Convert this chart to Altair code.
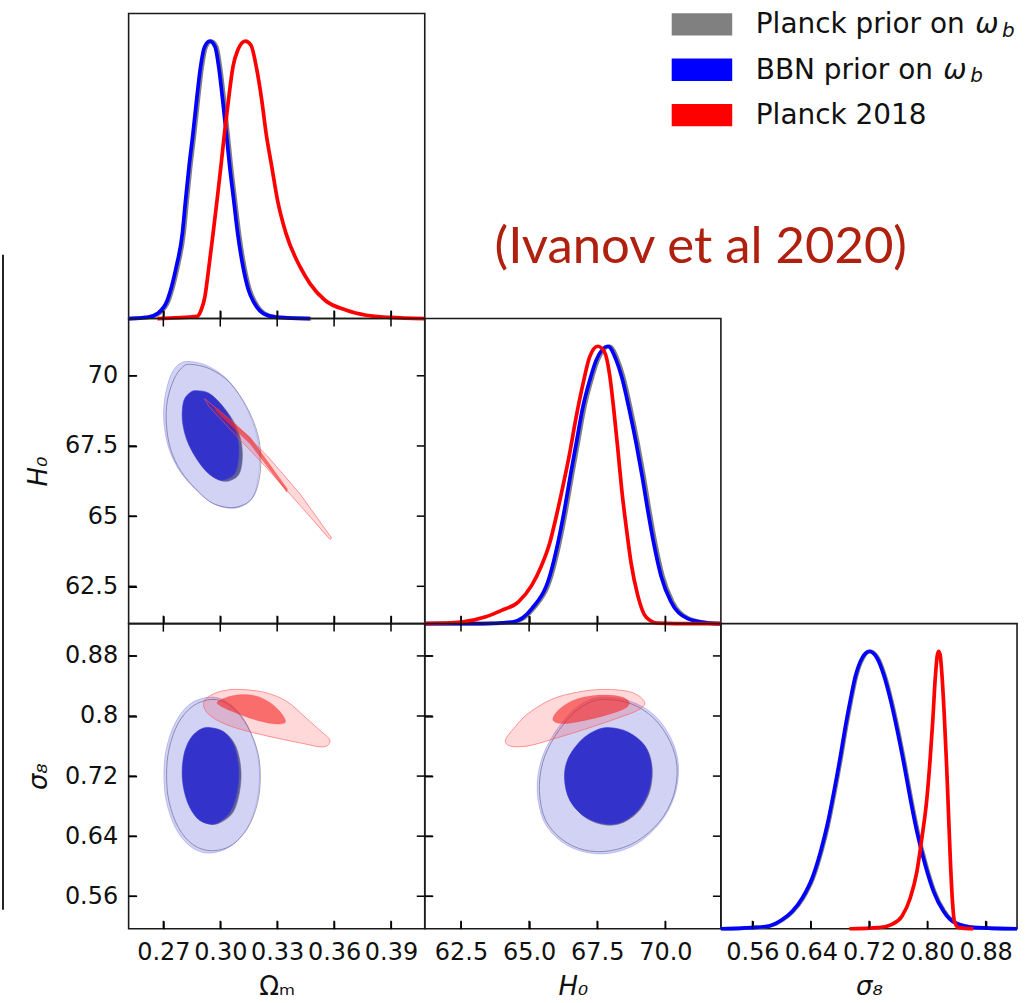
import altair as alt
import pandas as pd

FONT = "DejaVu Sans"
W, H = 297, 306
TK = 8

# ---------------- axes ----------------
om_domain = [0.2517, 0.4078]
h0_domain = [61.17, 72.04]
s8_domain = [0.5167, 0.9230]
dens_domain = [0, 1.1]
om_ticks = [0.27, 0.30, 0.33, 0.36, 0.39]
h0_ticks = [62.5, 65.0, 67.5, 70.0]
s8_ticks = [0.56, 0.64, 0.72, 0.80, 0.88]

# ---------------- 1D marginals ----------------
om_x_gray = [0.2517, 0.2625, 0.2678, 0.2730, 0.2777, 0.2809, 0.2826, 0.2844, 0.2865, 0.2884, 0.2905, 0.2926, 0.2954,
             0.2982, 0.3001, 0.3022, 0.3041, 0.3059, 0.3080, 0.3101, 0.3129, 0.3158, 0.3185, 0.3237, 0.3307, 0.3480]
om_x_blue = [0.2517, 0.2616, 0.2669, 0.2721, 0.2768, 0.2800, 0.2817, 0.2835, 0.2856, 0.2875, 0.2896, 0.2917, 0.2945,
             0.2973, 0.2992, 0.3013, 0.3032, 0.3050, 0.3071, 0.3092, 0.3120, 0.3149, 0.3176, 0.3228, 0.3298, 0.3473]
om_p_blue = [0.0, 0.004, 0.018, 0.066, 0.186, 0.306, 0.426, 0.546, 0.666, 0.786, 0.907, 0.979, 1.0,
             0.979, 0.907, 0.786, 0.666, 0.546, 0.426, 0.306, 0.186, 0.102, 0.060, 0.018, 0.004, 0.0]
om_x_red = [0.2669, 0.2878, 0.2899, 0.2919, 0.2938, 0.2962, 0.2983, 0.3003, 0.3022, 0.3043, 0.3067, 0.3092, 0.3132,
            0.3162, 0.3190, 0.3219, 0.3242, 0.3272, 0.3302, 0.3347, 0.3421, 0.3473, 0.3552, 0.3665, 0.3770, 0.3893, 0.4078]
om_p_red = [0.0, 0.008, 0.030, 0.078, 0.174, 0.306, 0.426, 0.546, 0.666, 0.786, 0.907, 0.967, 1.0,
            0.985, 0.907, 0.786, 0.666, 0.546, 0.426, 0.306, 0.186, 0.126, 0.066, 0.030, 0.012, 0.004, 0.0]

h0_x_gray = [61.17, 63.37, 64.47, 65.17, 65.83, 66.13, 66.37, 66.58, 66.80, 67.02, 67.33, 67.53, 67.96,
             68.27, 68.47, 68.75, 69.00, 69.22, 69.42, 69.64, 69.91, 70.28, 70.89, 71.67, 72.04]
h0_x_blue = [61.17, 63.30, 64.40, 65.10, 65.76, 66.06, 66.30, 66.51, 66.73, 66.95, 67.26, 67.46, 67.89,
             68.20, 68.40, 68.68, 68.93, 69.15, 69.35, 69.57, 69.84, 70.21, 70.82, 71.60, 72.04]
h0_p_blue = [0.0, 0.0, 0.006, 0.054, 0.173, 0.292, 0.412, 0.531, 0.650, 0.770, 0.889, 0.949, 1.0,
             0.949, 0.889, 0.770, 0.650, 0.531, 0.412, 0.292, 0.173, 0.078, 0.018, 0.002, 0.0]
h0_x_red = [61.17, 62.52, 63.38, 63.99, 64.60, 65.09, 65.45, 65.76, 66.00, 66.24, 66.49, 66.73, 66.98, 67.22, 67.52,
            67.77, 67.95, 68.11, 68.26, 68.40, 68.56, 68.74, 68.99, 69.29, 69.72, 71.06, 72.04]
h0_p_red = [0.0, 0.006, 0.024, 0.048, 0.078, 0.137, 0.208, 0.292, 0.388, 0.495, 0.615, 0.746, 0.865, 0.961, 1.0,
            0.979, 0.901, 0.770, 0.626, 0.483, 0.352, 0.221, 0.101, 0.024, 0.002, 0.0, 0.0]

s8_x_gray = [0.5167, 0.5615, 0.5843, 0.6025, 0.6162, 0.6299, 0.6435, 0.6549, 0.6641, 0.6732, 0.6823, 0.6891, 0.6960,
             0.7028, 0.7119, 0.7219, 0.7324, 0.7415, 0.7507, 0.7598, 0.7689, 0.7780, 0.7871, 0.7985, 0.8099, 0.8236,
             0.8395, 0.8669, 0.9230]
s8_x_blue = [0.5167, 0.5600, 0.5828, 0.6010, 0.6147, 0.6284, 0.6420, 0.6534, 0.6626, 0.6717, 0.6808, 0.6876, 0.6945,
             0.7013, 0.7104, 0.7204, 0.7309, 0.7400, 0.7492, 0.7583, 0.7674, 0.7765, 0.7856, 0.7970, 0.8084, 0.8221,
             0.8380, 0.8654, 0.9230]
s8_p_blue = [0.0, 0.004, 0.010, 0.033, 0.063, 0.111, 0.183, 0.278, 0.374, 0.493, 0.624, 0.731, 0.827,
             0.911, 0.976, 1.0, 0.976, 0.916, 0.827, 0.720, 0.600, 0.469, 0.350, 0.230, 0.135, 0.063,
             0.021, 0.004, 0.0]
s8_x_red = [0.6931, 0.7332, 0.7514, 0.7651, 0.7765, 0.7856, 0.7924, 0.7993, 0.8038, 0.8075, 0.8107, 0.8134, 0.8152,
            0.8175, 0.8198, 0.8230, 0.8262, 0.8289, 0.8316, 0.8344, 0.8371, 0.8426, 0.8631]
s8_p_red = [0.0, 0.004, 0.016, 0.045, 0.111, 0.206, 0.326, 0.469, 0.612, 0.755, 0.899, 0.982, 1.0,
            0.988, 0.922, 0.779, 0.600, 0.421, 0.242, 0.099, 0.027, 0.004, 0.0]

# ---------------- 2D contours: (Omega_m, H0) ----------------
ml_gray_out_x = [0.2843, 0.2948, 0.3053, 0.3141, 0.3197, 0.3214, 0.3202, 0.3167, 0.3106, 0.3036, 0.2948, 0.2870, 0.2791, 0.2738, 0.2716, 0.2721, 0.2756, 0.2800]
ml_gray_out_y = [70.41, 70.24, 69.74, 68.87, 67.93, 67.04, 66.21, 65.62, 65.36, 65.31, 65.50, 65.97, 66.62, 67.39, 68.28, 69.11, 69.88, 70.30]
ml_gray_in_x = [0.2887, 0.2952, 0.3015, 0.3074, 0.3109, 0.3116, 0.3099, 0.3053, 0.3001, 0.2940, 0.2878, 0.2831, 0.2812, 0.2819, 0.2852]
ml_gray_in_y = [69.41, 69.31, 68.91, 68.32, 67.69, 67.04, 66.50, 66.27, 66.27, 66.53, 67.06, 67.73, 68.44, 69.08, 69.35]
ml_blue_out_x = [0.2835, 0.2931, 0.3036, 0.3123, 0.3184, 0.3207, 0.3202, 0.3176, 0.3123, 0.3053, 0.2966, 0.2878, 0.2791, 0.2730, 0.2703, 0.2707, 0.2738, 0.2782]
ml_blue_out_y = [70.51, 70.36, 69.88, 69.05, 68.10, 67.27, 66.45, 65.73, 65.38, 65.28, 65.44, 65.91, 66.56, 67.39, 68.34, 69.17, 70.00, 70.41]
ml_blue_in_x = [0.2878, 0.2940, 0.3001, 0.3062, 0.3092, 0.3097, 0.3080, 0.3036, 0.2992, 0.2931, 0.2870, 0.2822, 0.2800, 0.2808, 0.2843]
ml_blue_in_y = [69.47, 69.38, 68.99, 68.40, 67.75, 67.16, 66.56, 66.33, 66.30, 66.56, 67.10, 67.75, 68.46, 69.11, 69.41]
ml_red_out_x = [0.2917, 0.3071, 0.3246, 0.3421, 0.3587, 0.3578, 0.3421, 0.3246, 0.3071, 0.2940]
ml_red_out_y = [69.19, 68.34, 67.16, 65.79, 64.22, 64.17, 65.38, 66.71, 67.96, 68.91]
ml_red_in_x = [0.2966, 0.3158, 0.3354, 0.3351, 0.3158, 0.2983]
ml_red_in_y = [68.93, 67.81, 65.97, 65.85, 67.57, 68.70]

# ---------------- 2D contours: (Omega_m, sigma8) ----------------
bl_gray_out_x = [0.2957, 0.3045, 0.3128, 0.3190, 0.3211, 0.3197, 0.3144, 0.3057, 0.2952, 0.2857, 0.2779, 0.2730, 0.2717, 0.2730, 0.2777, 0.2856]
bl_gray_out_y = [0.8221, 0.8150, 0.7929, 0.7589, 0.7235, 0.6851, 0.6506, 0.6276, 0.6206, 0.6285, 0.6515, 0.6860, 0.7213, 0.7558, 0.7898, 0.8133]
bl_gray_in_x = [0.2957, 0.3027, 0.3083, 0.3109, 0.3100, 0.3066, 0.3001, 0.2945, 0.2885, 0.2835, 0.2808, 0.2817, 0.2852, 0.2905]
bl_gray_in_y = [0.7832, 0.7775, 0.7589, 0.7280, 0.6970, 0.6714, 0.6581, 0.6559, 0.6639, 0.6860, 0.7169, 0.7478, 0.7700, 0.7819]
bl_blue_out_x = [0.2948, 0.3036, 0.3123, 0.3184, 0.3207, 0.3193, 0.3141, 0.3053, 0.2940, 0.2843, 0.2765, 0.2716, 0.2703, 0.2716, 0.2765, 0.2843]
bl_blue_out_y = [0.8252, 0.8186, 0.7965, 0.7611, 0.7257, 0.6860, 0.6506, 0.6263, 0.6175, 0.6263, 0.6506, 0.6860, 0.7213, 0.7567, 0.7920, 0.8164]
bl_blue_in_x = [0.2948, 0.3018, 0.3071, 0.3097, 0.3088, 0.3053, 0.2992, 0.2940, 0.2878, 0.2826, 0.2800, 0.2808, 0.2843, 0.2896]
bl_blue_in_y = [0.7845, 0.7788, 0.7611, 0.7302, 0.6992, 0.6727, 0.6586, 0.6564, 0.6639, 0.6860, 0.7169, 0.7478, 0.7700, 0.7823]
bl_red_out_x = [0.2913, 0.2966, 0.3071, 0.3228, 0.3351, 0.3456, 0.3525, 0.3578, 0.3543, 0.3421, 0.3246, 0.3106, 0.3001, 0.2931]
bl_red_out_y = [0.8186, 0.8296, 0.8354, 0.8318, 0.8194, 0.7965, 0.7810, 0.7677, 0.7589, 0.7642, 0.7735, 0.7823, 0.7920, 0.8044]
bl_red_in_x = [0.2987, 0.3071, 0.3176, 0.3263, 0.3324, 0.3342, 0.3281, 0.3176, 0.3071, 0.3001]
bl_red_in_y = [0.8194, 0.8274, 0.8274, 0.8177, 0.8031, 0.7912, 0.7898, 0.7956, 0.8053, 0.8133]

# ---------------- 2D contours: (H0, sigma8) ----------------
bm_gray_out_x = [67.77, 68.74, 69.57, 70.17, 70.43, 70.30, 69.79, 68.94, 67.99, 67.04, 66.21, 65.60, 65.38, 65.50, 65.94, 66.60, 67.20]
bm_gray_out_y = [0.8221, 0.8164, 0.7973, 0.7664, 0.7324, 0.6939, 0.6594, 0.6329, 0.6206, 0.6214, 0.6356, 0.6617, 0.6992, 0.7381, 0.7726, 0.8027, 0.8177]
bm_gray_in_x = [67.99, 68.65, 69.26, 69.51, 69.45, 69.09, 68.48, 67.80, 67.07, 66.52, 66.34, 66.46, 66.95, 67.50]
bm_gray_in_y = [0.7832, 0.7775, 0.7598, 0.7337, 0.7028, 0.6762, 0.6586, 0.6550, 0.6648, 0.6869, 0.7160, 0.7425, 0.7664, 0.7797]
bm_blue_out_x = [67.77, 68.74, 69.60, 70.21, 70.48, 70.35, 69.84, 68.99, 68.01, 67.04, 66.18, 65.55, 65.30, 65.43, 65.88, 66.55, 67.16]
bm_blue_out_y = [0.8252, 0.8194, 0.8009, 0.7699, 0.7346, 0.6948, 0.6594, 0.6307, 0.6175, 0.6188, 0.6329, 0.6594, 0.6992, 0.7390, 0.7744, 0.8053, 0.8208]
bm_blue_in_x = [67.95, 68.62, 69.23, 69.48, 69.41, 69.05, 68.44, 67.77, 67.04, 66.49, 66.30, 66.43, 66.91, 67.46]
bm_blue_in_y = [0.7845, 0.7788, 0.7611, 0.7346, 0.7036, 0.6771, 0.6594, 0.6564, 0.6661, 0.6882, 0.7169, 0.7434, 0.7677, 0.7810]
bm_red_out_x = [69.23, 68.74, 67.77, 66.79, 65.82, 64.96, 64.48, 64.13, 64.33, 64.96, 65.82, 67.04, 68.26, 69.05]
bm_red_out_y = [0.8194, 0.8318, 0.8354, 0.8318, 0.8221, 0.8031, 0.7854, 0.7677, 0.7598, 0.7602, 0.7686, 0.7823, 0.7973, 0.8088]
bm_red_in_x = [68.66, 68.26, 67.40, 66.61, 66.06, 65.88, 66.30, 67.16, 68.01, 68.56]
bm_red_in_y = [0.8194, 0.8265, 0.8274, 0.8208, 0.8075, 0.7943, 0.7898, 0.7951, 0.8031, 0.8110]

# ---------------- legend ----------------
legend_labels = ["Planck prior on", "BBN prior on", "Planck 2018"]
legend_colors = ["#808080", "#0000ff", "#ff0000"]
annotation = "(Ivanov et al 2020)"

# layout constants (pixels inside the legend cell)
OMEGA_X = [552, 520]
SUB_X = [579, 547]

GRAY, BLUE, RED = "#808080", "#0000ff", "#ff0000"
INK = "#000000"
TXT = "#111111"

STYLES = {
    "gray_out": dict(stroke="#9a9a9a", strokeWidth=0.9),
    "gray_in": dict(fill="#6b6b8a", fillOpacity=1.0, stroke="#7a7a7a", strokeWidth=0.6),
    "blue_out": dict(fill="#3333cc", fillOpacity=0.22, stroke="#6666ff", strokeWidth=0.7, strokeOpacity=0.5),
    "blue_in": dict(fill="#3333cc", fillOpacity=1.0, stroke="#3838d8", strokeWidth=0.6),
    "red_out": dict(fill="#ff0000", fillOpacity=0.15, stroke="#ff5555", strokeWidth=1.0, strokeOpacity=0.6),
    "red_in": dict(fill="#f52a2a", fillOpacity=0.62, stroke="#f52a2a", strokeWidth=0.5, strokeOpacity=0.4),
}


def frame(xs, ys):
    return pd.DataFrame({"x": xs, "y": ys, "i": list(range(len(xs)))})


def axis(orient, values, fmt=None, expr=None, labels=False, title=None, italic=False):
    horiz = orient in ("bottom", "top")
    kw = dict(orient=orient, values=values, offset=-TK, tickSize=TK, tickWidth=1.5,
              tickColor=INK, domain=False, grid=False, labels=labels,
              labelFont=FONT, labelFontSize=24, labelColor=TXT,
              labelOverlap=False, labelFlush=False,
              labelPadding=12 if horiz else 11,
              titleFont=FONT, titleFontSize=26, titleFontWeight="normal",
              titleColor=TXT, titlePadding=9 if horiz else 13, title=title)
    if fmt:
        kw["format"] = fmt
    if expr:
        kw["labelExpr"] = expr
    if italic:
        kw["titleFontStyle"] = "italic"
    return alt.Axis(**kw)


def tick_layers(xsc, ysc, xt, yt, sides):
    """Inward tick marks drawn at the tick values through the panel scales."""
    out = []
    xdf = pd.DataFrame({"v": xt})
    ydf = pd.DataFrame({"v": yt})
    style = dict(size=TK, thickness=1.5, color=INK, opacity=1)
    if "bottom" in sides:
        out.append(alt.Chart(xdf).mark_tick(orient="vertical", **style).encode(
            x=alt.X("v:Q", scale=xsc, axis=None), y=alt.value(H - TK / 2)))
    if "top" in sides:
        out.append(alt.Chart(xdf).mark_tick(orient="vertical", **style).encode(
            x=alt.X("v:Q", scale=xsc, axis=None), y=alt.value(TK / 2)))
    if "left" in sides:
        out.append(alt.Chart(ydf).mark_tick(orient="horizontal", **style).encode(
            y=alt.Y("v:Q", scale=ysc, axis=None), x=alt.value(TK / 2)))
    if "right" in sides:
        out.append(alt.Chart(ydf).mark_tick(orient="horizontal", **style).encode(
            y=alt.Y("v:Q", scale=ysc, axis=None), x=alt.value(W - TK / 2)))
    return out


def panel2d(xdom, ydom, xt, yt, contours, bottom_axis, left_axis, extra=()):
    xsc = alt.Scale(domain=xdom, nice=False, zero=False)
    ysc = alt.Scale(domain=ydom, nice=False, zero=False)
    layers = []
    for k, (cx, cy, style, interp) in enumerate(contours):
        if k == 0:
            xa, ya = bottom_axis, left_axis
        else:
            xa = ya = None
        layers.append(
            alt.Chart(frame(cx, cy)).mark_line(interpolate=interp, **STYLES[style]).encode(
                x=alt.X("x:Q", scale=xsc, axis=xa),
                y=alt.Y("y:Q", scale=ysc, axis=ya),
                order=alt.Order("i:Q"),
            )
        )
    layers.extend(tick_layers(xsc, ysc, xt, yt, ("bottom", "top", "left", "right")))
    layers.extend(extra)
    return alt.layer(*layers).resolve_axis(x="independent", y="independent").properties(width=W, height=H)


def panel1d(xdom, xt, curves, bottom_axis):
    xsc = alt.Scale(domain=xdom, nice=False, zero=False)
    ysc = alt.Scale(domain=dens_domain, nice=False)
    layers = []
    for k, (cx, cy, color) in enumerate(curves):
        layers.append(
            alt.Chart(frame(cx, cy)).mark_line(color=color, strokeWidth=3.7, interpolate="monotone").encode(
                x=alt.X("x:Q", scale=xsc, axis=bottom_axis if k == 0 else None),
                y=alt.Y("y:Q", scale=ysc, axis=None),
            )
        )
    layers.extend(tick_layers(xsc, ysc, xt, [], ("bottom",)))
    return alt.layer(*layers).resolve_axis(x="independent", y="independent").properties(width=W, height=H)


def empty():
    return alt.Chart(alt.Data(values=[{}])).mark_point(opacity=0).encode(
        x=alt.value(0), y=alt.value(0)
    ).properties(width=W, height=H, view=alt.ViewBackground(stroke="transparent"))


NUM = "'' + datum.value"

# ---- diagonal panels ----
TL = panel1d(om_domain, om_ticks,
             [(om_x_gray, om_p_blue, GRAY), (om_x_blue, om_p_blue, BLUE), (om_x_red, om_p_red, RED)],
             axis("bottom", om_ticks))
MM = panel1d(h0_domain, h0_ticks,
             [(h0_x_gray, h0_p_blue, GRAY), (h0_x_blue, h0_p_blue, BLUE), (h0_x_red, h0_p_red, RED)],
             axis("bottom", h0_ticks))
BR = panel1d(s8_domain, s8_ticks,
             [(s8_x_gray, s8_p_blue, GRAY), (s8_x_blue, s8_p_blue, BLUE), (s8_x_red, s8_p_red, RED)],
             axis("bottom", s8_ticks, fmt=".2f", labels=True, title="σ₈", italic=True))

# ---- 2D panels ----
artifact = alt.Chart(alt.Data(values=[{}])).mark_rule(color="#222222", strokeWidth=2).encode(
    x=alt.value(-126), y=alt.value(-64), y2=alt.value(593))

ML = panel2d(
    om_domain, h0_domain, om_ticks, h0_ticks,
    [(ml_gray_out_x, ml_gray_out_y, "gray_out", "cardinal-closed"),
     (ml_gray_in_x, ml_gray_in_y, "gray_in", "cardinal-closed"),
     (ml_blue_out_x, ml_blue_out_y, "blue_out", "cardinal-closed"),
     (ml_blue_in_x, ml_blue_in_y, "blue_in", "cardinal-closed"),
     (ml_red_out_x, ml_red_out_y, "red_out", "linear-closed"),
     (ml_red_in_x, ml_red_in_y, "red_in", "linear-closed")],
    axis("bottom", om_ticks),
    axis("left", h0_ticks, expr=NUM, labels=True, title="H₀", italic=True),
    extra=[artifact],
)
BL = panel2d(
    om_domain, s8_domain, om_ticks, s8_ticks,
    [(bl_gray_out_x, bl_gray_out_y, "gray_out", "cardinal-closed"),
     (bl_gray_in_x, bl_gray_in_y, "gray_in", "cardinal-closed"),
     (bl_blue_out_x, bl_blue_out_y, "blue_out", "cardinal-closed"),
     (bl_blue_in_x, bl_blue_in_y, "blue_in", "cardinal-closed"),
     (bl_red_out_x, bl_red_out_y, "red_out", "cardinal-closed"),
     (bl_red_in_x, bl_red_in_y, "red_in", "cardinal-closed")],
    axis("bottom", om_ticks, fmt=".2f", labels=True, title="Ωₘ"),
    axis("left", s8_ticks, expr=NUM, labels=True, title="σ₈", italic=True),
)
BM = panel2d(
    h0_domain, s8_domain, h0_ticks, s8_ticks,
    [(bm_gray_out_x, bm_gray_out_y, "gray_out", "cardinal-closed"),
     (bm_gray_in_x, bm_gray_in_y, "gray_in", "cardinal-closed"),
     (bm_blue_out_x, bm_blue_out_y, "blue_out", "cardinal-closed"),
     (bm_blue_in_x, bm_blue_in_y, "blue_in", "cardinal-closed"),
     (bm_red_out_x, bm_red_out_y, "red_out", "cardinal-closed"),
     (bm_red_in_x, bm_red_in_y, "red_in", "cardinal-closed")],
    axis("bottom", h0_ticks, fmt=".1f", labels=True, title="H₀", italic=True),
    axis("left", s8_ticks),
)

# ---- legend + annotation cell ----
leg_df = pd.DataFrame({"row": [0, 1, 2], "label": legend_labels})
rows = alt.Y("row:Q", scale=alt.Scale(domain=[0, 2], range=[11, 102]), axis=None)
swatches = alt.Chart(leg_df).mark_point(
    shape="M-1,-0.37H1V0.37H-1Z", size=3684, filled=True, opacity=1, strokeWidth=0
).encode(
    x=alt.value(278), y=rows,
    color=alt.Color("label:N", scale=alt.Scale(domain=legend_labels, range=legend_colors), legend=None),
)
labels = alt.Chart(leg_df).mark_text(
    align="left", baseline="alphabetic", font=FONT, fontSize=28, color=TXT, dy=9
).encode(x=alt.value(332), y=rows, text="label:N")
leg_layers = [swatches, labels]
for r in range(2):
    leg_layers.append(
        alt.Chart(leg_df).transform_filter(alt.datum.row == r).mark_text(
            text="ω", align="left", baseline="alphabetic", font=FONT, fontSize=28,
            fontStyle="italic", color=TXT, dy=9
        ).encode(x=alt.value(OMEGA_X[r]), y=rows)
    )
    leg_layers.append(
        alt.Chart(leg_df).transform_filter(alt.datum.row == r).mark_text(
            text="b", align="left", baseline="alphabetic", font=FONT, fontSize=20,
            fontStyle="italic", color=TXT, dy=12.5
        ).encode(x=alt.value(SUB_X[r]), y=rows)
    )
leg_layers.append(
    alt.Chart(alt.Data(values=[{}])).mark_text(
        text=annotation, align="left", baseline="alphabetic", font="Lato", fontSize=51, color="#b0200e"
    ).encode(x=alt.value(70), y=alt.value(250))
)
LEG = alt.layer(*leg_layers).properties(width=W, height=H, view=alt.ViewBackground(stroke="transparent"))

chart = alt.concat(
    TL, LEG, empty(),
    ML, MM, empty(),
    BL, BM, BR,
    columns=3, spacing=0, bounds="flush",
).properties(
    padding={"left": 1, "top": 8, "right": 2, "bottom": 0}
).configure(background="white", font=FONT).configure_view(stroke="#1a1a1a", strokeWidth=1.6)

chart.save("out.html", embed_options={"renderer": "svg", "actions": False})
